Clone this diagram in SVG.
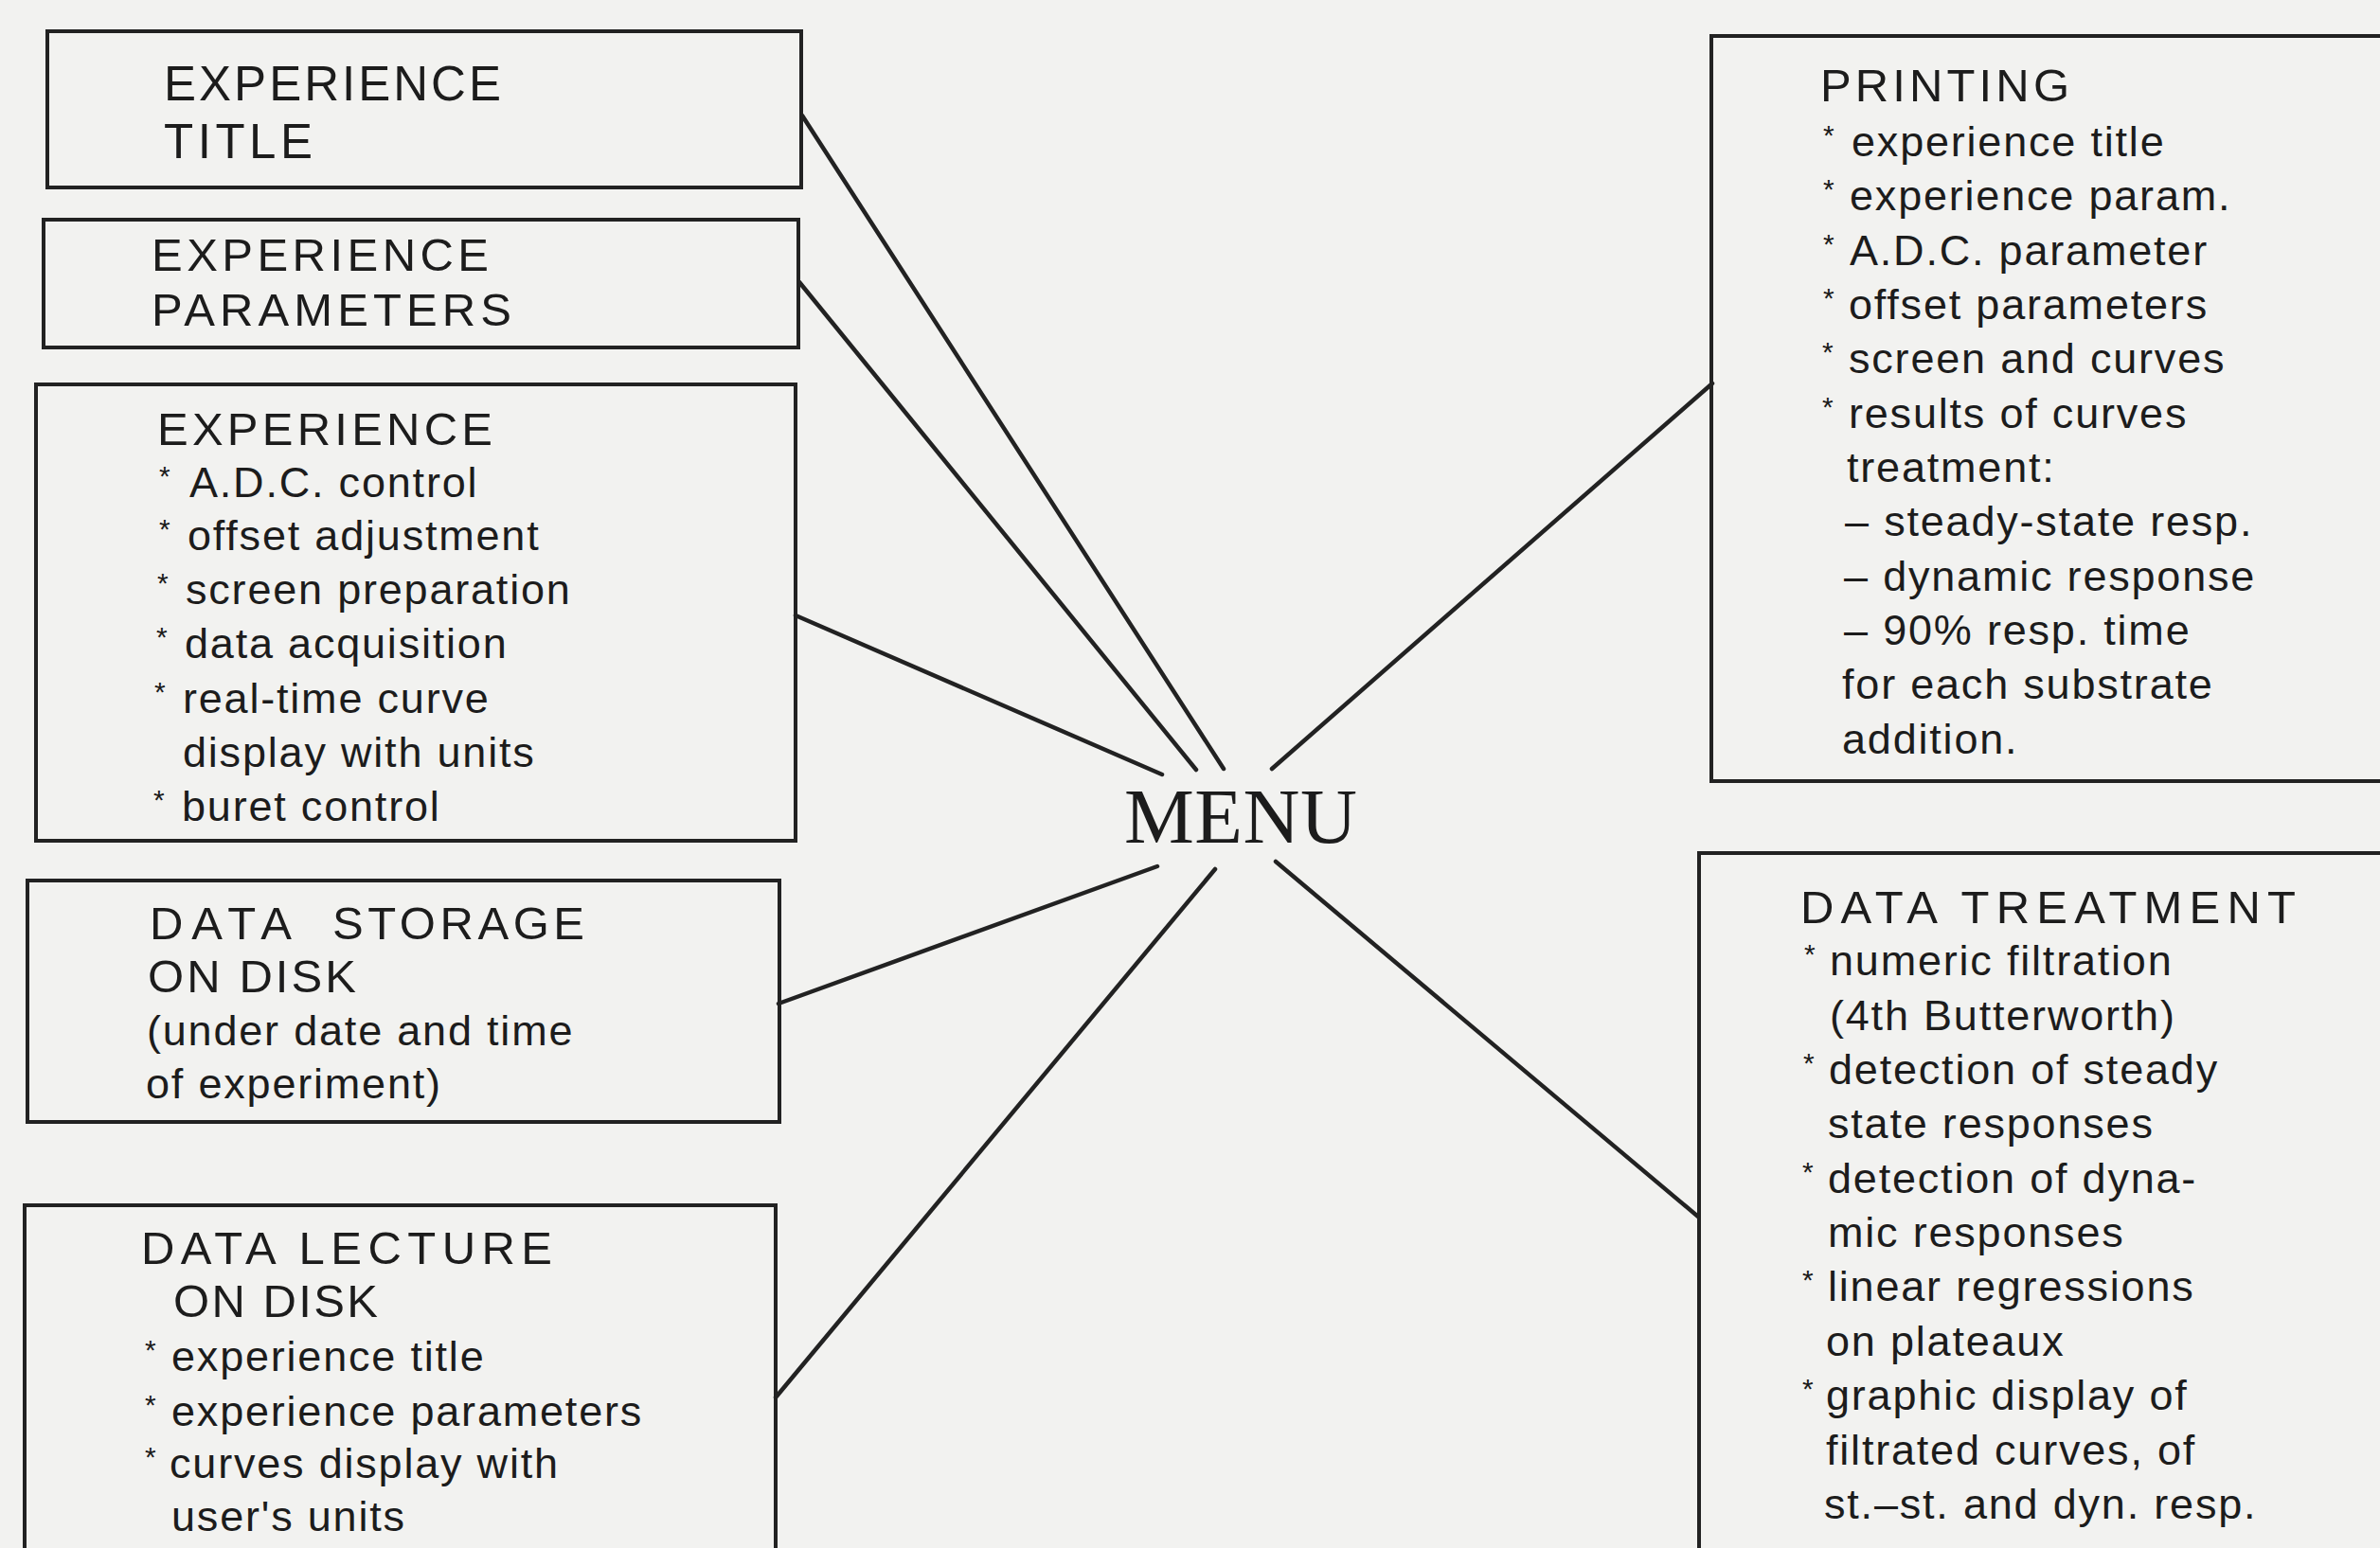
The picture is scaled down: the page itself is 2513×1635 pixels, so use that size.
<svg xmlns="http://www.w3.org/2000/svg" width="2513" height="1635" viewBox="0 0 2513 1635">
<style>
.bg{fill:#f2f2f0}
.box{fill:none;stroke:#222;stroke-width:4}
.conn line{stroke:#222;stroke-width:4.5;stroke-linecap:round}
text{font-family:"Liberation Sans",Arial,sans-serif;fill:#1c1c1c}
.h{font-size:49px}
.t{font-size:45px;letter-spacing:1.8px}
.a{font-size:30px}
.menu{font-family:"Liberation Serif","Times New Roman",serif;font-size:83px}
</style>
<rect class="bg" x="0" y="0" width="2513" height="1635"/>
<g id="connectors" class="conn">
<line x1="847" y1="122" x2="1292" y2="812"/>
<line x1="844" y1="298" x2="1263" y2="813"/>
<line x1="840" y1="650" x2="1227" y2="818"/>
<line x1="1808" y1="405" x2="1343" y2="812"/>
<line x1="822" y1="1060" x2="1222" y2="915"/>
<line x1="819" y1="1476" x2="1283" y2="918"/>
<line x1="1793" y1="1285" x2="1347" y2="910"/>
</g>
<g id="menu">
<text class="menu" x="1187" y="890" textLength="246">MENU</text>
</g>
<g id="experience-title">
<rect class="box" x="50" y="33" width="796" height="165"/>
<text class="h" x="173" y="106" textLength="356" style="font-size:51px">EXPERIENCE</text>
<text class="h" x="173" y="167" textLength="157" style="font-size:51px">TITLE</text>
</g>
<g id="experience-parameters">
<rect class="box" x="46" y="232" width="797" height="135"/>
<text class="h" x="160" y="286" textLength="356">EXPERIENCE</text>
<text class="h" x="160" y="344" textLength="380">PARAMETERS</text>
</g>
<g id="experience">
<rect class="box" x="38" y="406" width="802" height="482"/>
<text class="h" x="166" y="470" textLength="354">EXPERIENCE</text>
<text class="a" x="168" y="513">*</text><text class="t" x="200" y="525">A.D.C. control</text>
<text class="a" x="168" y="569">*</text><text class="t" x="198" y="581">offset adjustment</text>
<text class="a" x="166" y="626">*</text><text class="t" x="196" y="638">screen preparation</text>
<text class="a" x="165" y="683">*</text><text class="t" x="195" y="695">data acquisition</text>
<text class="a" x="163" y="741">*</text><text class="t" x="193" y="753">real-time curve</text>
<text class="t" x="193" y="810">display with units</text>
<text class="a" x="162" y="855">*</text><text class="t" x="192" y="867">buret control</text>
</g>
<g id="data-storage">
<rect class="box" x="29" y="930" width="794" height="255"/>
<text class="h" x="158" y="992"><tspan textLength="150">DATA</tspan><tspan x="351" textLength="266">STORAGE</tspan></text>
<text class="h" x="156" y="1048" textLength="220">ON DISK</text>
<text class="t" x="155" y="1104">(under date and time</text>
<text class="t" x="154" y="1160">of experiment)</text>
</g>
<g id="data-lecture">
<rect class="box" x="26" y="1273" width="793" height="420"/>
<text class="h" x="149" y="1335" textLength="434">DATA LECTURE</text>
<text class="h" x="183" y="1391" textLength="216">ON DISK</text>
<text class="a" x="153" y="1436">*</text><text class="t" x="181" y="1448">experience title</text>
<text class="a" x="153" y="1494">*</text><text class="t" x="181" y="1506">experience parameters</text>
<text class="a" x="153" y="1549">*</text><text class="t" x="179" y="1561">curves display with</text>
<text class="t" x="181" y="1617">user's units</text>
</g>
<g id="printing">
<rect class="box" x="1807" y="38" width="760" height="787"/>
<text class="h" x="1922" y="107" textLength="263">PRINTING</text>
<text class="a" x="1925" y="153">*</text><text class="t" x="1955" y="165">experience title</text>
<text class="a" x="1925" y="210">*</text><text class="t" x="1953" y="222">experience param.</text>
<text class="a" x="1925" y="268">*</text><text class="t" x="1953" y="280">A.D.C. parameter</text>
<text class="a" x="1925" y="325">*</text><text class="t" x="1952" y="337">offset parameters</text>
<text class="a" x="1924" y="382">*</text><text class="t" x="1952" y="394">screen and curves</text>
<text class="a" x="1924" y="440">*</text><text class="t" x="1952" y="452">results of curves</text>
<text class="t" x="1950" y="509">treatment:</text>
<text class="t" x="1948" y="566">– steady-state resp.</text>
<text class="t" x="1947" y="624">– dynamic response</text>
<text class="t" x="1947" y="681">– 90% resp. time</text>
<text class="t" x="1945" y="738">for each substrate</text>
<text class="t" x="1945" y="796">addition.</text>
</g>
<g id="data-treatment">
<rect class="box" x="1794" y="901" width="760" height="800"/>
<text class="h" x="1901" y="975" textLength="523">DATA TREATMENT</text>
<text class="a" x="1905" y="1018">*</text><text class="t" x="1932" y="1030">numeric filtration</text>
<text class="t" x="1932" y="1088">(4th Butterworth)</text>
<text class="a" x="1904" y="1133">*</text><text class="t" x="1931" y="1145">detection of steady</text>
<text class="t" x="1930" y="1202">state responses</text>
<text class="a" x="1903" y="1248">*</text><text class="t" x="1930" y="1260">detection of dyna-</text>
<text class="t" x="1930" y="1317">mic responses</text>
<text class="a" x="1903" y="1362">*</text><text class="t" x="1930" y="1374">linear regressions</text>
<text class="t" x="1928" y="1432">on plateaux</text>
<text class="a" x="1903" y="1477">*</text><text class="t" x="1928" y="1489">graphic display of</text>
<text class="t" x="1928" y="1547">filtrated curves, of</text>
<text class="t" x="1926" y="1604">st.–st. and dyn. resp.</text>
</g>
</svg>
